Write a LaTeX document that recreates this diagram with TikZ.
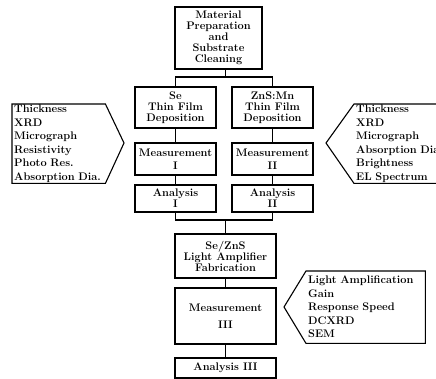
\documentclass[tikz,border=0pt]{standalone}
\usepackage{tikz}
\begin{document}
\begin{tikzpicture}[x=1pt, y=-1pt,
    blk/.style={draw, line width=1.2pt, align=center, inner sep=1pt, font=\fontsize{11}{11}\selectfont\bfseries},
    lst/.style={align=left, anchor=north west, inner xsep=2pt, inner ysep=0pt, font=\fontsize{11}{13.5}\selectfont\bfseries},
    outl/.style={line width=1.1pt, line join=miter},
    lnk/.style={line width=1.2pt}
]
\useasboundingbox (0,0) rectangle (436,379);

\node[blk, minimum width=87, minimum height=62] (mat) at (218.5,38) {Material\\Preparation\\and\\Substrate\\Cleaning};
\node[blk, minimum width=81, minimum height=41] (se) at (175.5,107.5) {Se\\Thin Film\\Deposition};
\node[blk, minimum width=81, minimum height=41] (zns) at (272.5,107.5) {ZnS:Mn\\Thin Film\\Deposition};
\node[blk, minimum width=81, minimum height=32] (meas1) at (175.5,159) {Measurement\\[2pt]I};
\node[blk, minimum width=81, minimum height=32] (meas2) at (272.5,159) {Measurement\\[2pt]II};
\node[blk, minimum width=81, minimum height=27] (ana1) at (175.5,198.5) {Analysis\\I};
\node[blk, minimum width=81, minimum height=27] (ana2) at (272.5,198.5) {Analysis\\II};
\node[blk, minimum width=101, minimum height=44] (fab) at (225.5,256) {Se/ZnS\\Light Amplifier\\Fabrication};
\node[blk, minimum width=101, minimum height=56] (meas3) at (225.5,316) {Measurement\\[6pt]III};
\node[blk, minimum width=101, minimum height=20] (ana3) at (225.5,368) {Analysis III};

\coordinate (split) at (225.5,77);
\coordinate (join) at (225.5,220);
\draw[lnk] (mat.south -| split) -- (split);
\draw[lnk] (se.north) |- (split) -| (zns.north);
\draw[lnk] (se) -- (meas1);
\draw[lnk] (meas1) -- (ana1);
\draw[lnk] (zns) -- (meas2);
\draw[lnk] (meas2) -- (ana2);
\draw[lnk] (ana1.south) |- (join) -| (ana2.south);
\draw[lnk] (join) -- (fab);
\draw[lnk] (fab) -- (meas3);
\draw[lnk] (meas3) -- (ana3);

\node[lst, text width=89, minimum height=79] (leftlist) at (12,104) {Thickness\\XRD\\Micrograph\\Resistivity\\Photo Res.\\Absorption Dia.};
\coordinate (lefttip) at (124,143);
\draw[outl] (leftlist.north west) -- (leftlist.north east) -- (lefttip) -- (leftlist.south east) -- (leftlist.south west) -- cycle;

\node[lst, text width=100, minimum height=79] (rightlist) at (354,104) {Thickness\\XRD\\Micrograph\\Absorption Dia.\\Brightness\\EL Spectrum};
\coordinate (righttip) at (326,143);
\draw[outl] (righttip) -- (rightlist.north west) -- (rightlist.north east) -- (rightlist.south east) -- (rightlist.south west) -- cycle;

\node[lst, text width=115, minimum height=72] (botlist) at (306,271) {Light Amplification\\Gain\\Response Speed\\DCXRD\\SEM};
\coordinate (bottip) at (284,307);
\draw[outl] (bottip) -- (botlist.north west) -- (botlist.north east) -- (botlist.south east) -- (botlist.south west) -- cycle;
\end{tikzpicture}
\end{document}
